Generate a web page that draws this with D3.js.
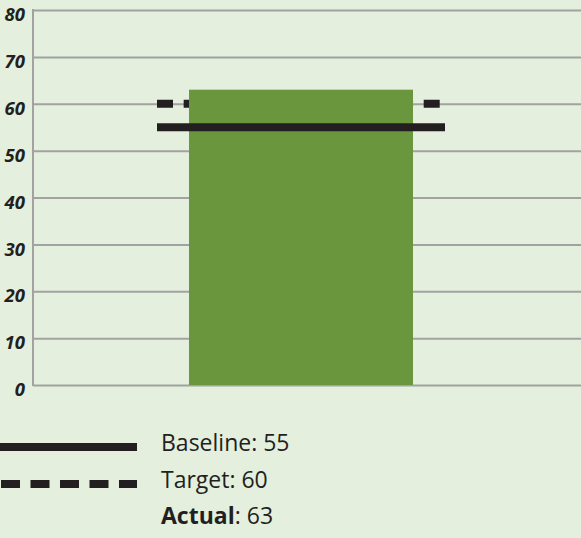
<!DOCTYPE html>
<html><head><meta charset="utf-8">
<script src="https://cdn.jsdelivr.net/npm/d3@7"></script>
<style>
html,body{margin:0;padding:0;background:#e4efdd;}
svg{display:block;}
</style></head>
<body>
<svg id="chart" width="581" height="538"></svg>
<script>
const yTicks = [0, 10, 20, 30, 40, 50, 60, 70, 80];
const categories = ["Actual"];
const actualValues = [63];
const baselineValue = 55;
const targetValue = 60;
const legendItems = [
  {label: "Baseline", value: 55, kind: "solid"},
  {label: "Target", value: 60, kind: "dashed"},
  {label: "Actual", value: 63, kind: "bold"}
];

const W = 581, H = 538;
const svg = d3.select("#chart");
svg.append("rect").attr("width", W).attr("height", H).attr("fill", "#e4efdd");

const y = d3.scaleLinear().domain([0, 80]).range([385, 10]);
const barX0 = 189, barW = 224;

// gridlines
const yAxis = d3.axisLeft(y).tickValues(yTicks).tickSize(-(W - 33)).tickFormat(d => d);
const g = svg.append("g").attr("transform", "translate(33,0)").call(yAxis);
g.select(".domain").remove();
g.selectAll(".tick line").attr("stroke", "#a2a2a2").attr("stroke-width", 2);
g.selectAll(".tick text")
  .attr("x", -8).attr("dy", "0.36em").attr("transform", "translate(0,4)")
  .attr("fill", "#231f20")
  .style("font-family", "'Open Sans', sans-serif")
  .style("font-size", "18.5px").style("font-weight", "700").style("font-style", "italic");
// y axis vertical line
svg.append("line").attr("x1", 33).attr("x2", 33).attr("y1", y(80) - 1).attr("y2", y(0) + 1)
  .attr("stroke", "#a2a2a2").attr("stroke-width", 2);

// target dashed (behind bar)
svg.append("line").attr("x1", 157).attr("x2", 440)
  .attr("y1", y(targetValue)).attr("y2", y(targetValue))
  .attr("stroke", "#231f20").attr("stroke-width", 8).attr("stroke-dasharray", "16 10.67");

// bar
svg.selectAll(".bar").data(actualValues).enter().append("rect")
  .attr("x", barX0).attr("width", barW)
  .attr("y", d => y(d)).attr("height", d => y(0) - y(d))
  .attr("fill", "#6a973d");

// baseline solid
svg.append("line").attr("x1", 157).attr("x2", 445)
  .attr("y1", y(baselineValue)).attr("y2", y(baselineValue))
  .attr("stroke", "#231f20").attr("stroke-width", 8);

// legend
const legY = [447, 484, 521];
const textY = [451, 487.5, 524];
const leg = svg.append("g");
legendItems.forEach((d, i) => {
  if (d.kind === "solid") {
    leg.append("line").attr("x1", 0).attr("x2", 137).attr("y1", legY[i]).attr("y2", legY[i])
      .attr("stroke", "#231f20").attr("stroke-width", 8);
  } else if (d.kind === "dashed") {
    leg.append("line").attr("x1", 1).attr("x2", 137).attr("y1", legY[i]).attr("y2", legY[i])
      .attr("stroke", "#231f20").attr("stroke-width", 8).attr("stroke-dasharray", "19 10.5");
  }
  const t = leg.append("text").attr("x", 161).attr("y", textY[i])
    .attr("fill", "#231f20")
    .style("font-family", "'Open Sans', sans-serif").style("font-size", "23px");
  if (d.kind === "bold") {
    t.append("tspan").style("font-weight", "700").text(d.label);
    t.append("tspan").text(": " + d.value);
  } else {
    t.text(d.label + ": " + d.value);
  }
});
</script>
</body></html>
